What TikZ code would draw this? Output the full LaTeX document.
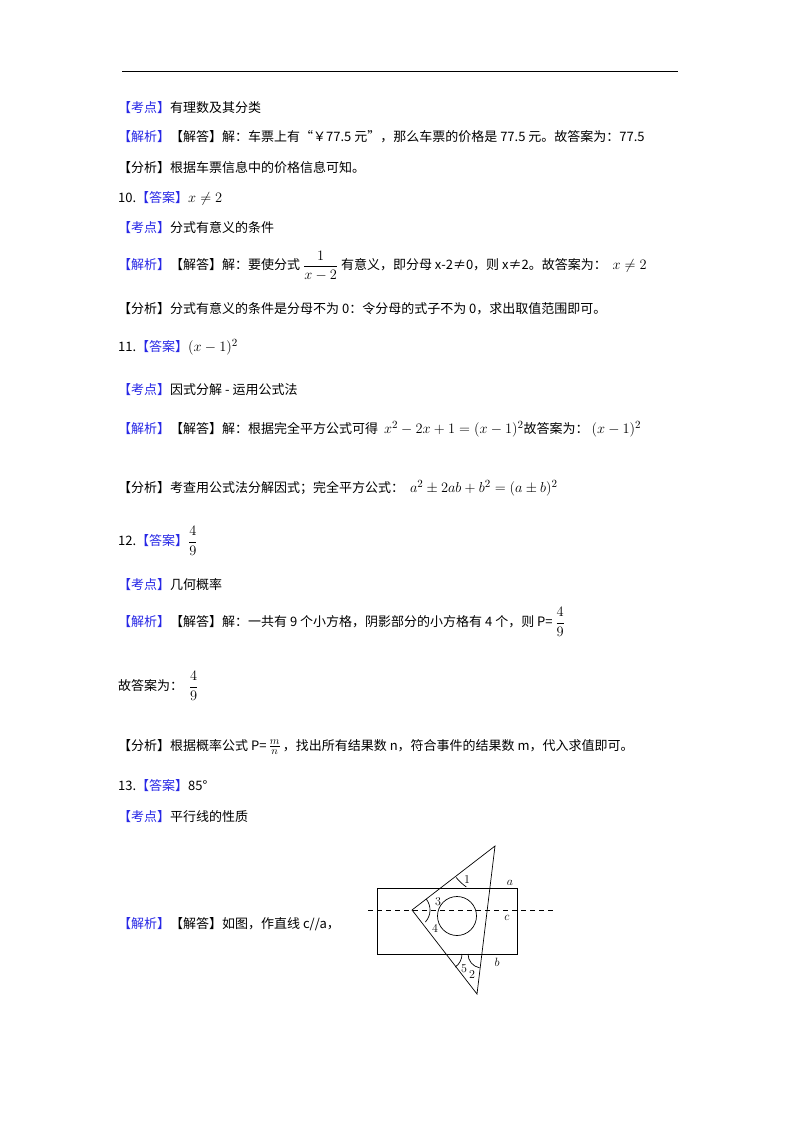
\documentclass[tikz,border=0pt]{standalone}
\usepackage{amsmath}
\usepackage{fontspec}
\setmainfont{Noto Sans CJK SC}
\definecolor{kblue}{RGB}{40,40,230}
\newcommand{\bk}[1]{\textcolor{kblue}{【#1】}}
\newcommand{\mm}[1]{{\fontsize{15}{16}\selectfont$#1$}}
\begin{document}
\begin{tikzpicture}[x=1pt,y=-1pt,
  ln/.style={anchor=west,inner sep=0pt,font=\fontsize{13}{15}\selectfont},
  lb/.style={inner sep=0pt,font=\fontsize{12}{12}\selectfont},
  fig/.style={line width=0.7pt}]
\useasboundingbox (0,0) rectangle (800,1132);
\fill[white] (0,0) rectangle (800,1132);
\draw[line width=1pt] (122,72) -- (678,72);
\node[ln] (l1) at (118,108) {\bk{考点}有理数及其分类};
\node[ln] (l2) at (118,137) {\bk{解析}【解答】解：车票上有“￥77.5 元”，那么车票的价格是 77.5 元。故答案为：77.5};
\node[ln] (l3) at (118,168) {【分析】根据车票信息中的价格信息可知。};
\node[ln] (l4) at (118,198) {10.\bk{答案}\mm{x\neq 2}};
\node[ln] (l5) at (118,228) {\bk{考点}分式有意义的条件};
\node[ln] (l6) at (118,266) {\bk{解析}【解答】解：要使分式 \mm{\dfrac{1}{x-2}} 有意义，即分母 x-2≠0，则 x≠2。故答案为：\ \ \mm{x\neq 2}};
\node[ln] (l7) at (118,309) {【分析】分式有意义的条件是分母不为 0：令分母的式子不为 0，求出取值范围即可。};
\node[ln] (l8) at (118,347) {11.\bk{答案}\mm{(x-1)^2}};
\node[ln] (l9) at (118,390) {\bk{考点}因式分解 - 运用公式法};
\node[ln] (l10) at (118,429) {\bk{解析}【解答】解：根据完全平方公式可得 \ \mm{x^2-2x+1=(x-1)^2}故答案为：\ \mm{(x-1)^2}};
\node[ln] (l11) at (118,488) {【分析】考查用公式法分解因式；完全平方公式：\ \ \mm{a^2\pm2ab+b^2=(a\pm b)^2}};
\node[ln] (l12) at (118,541) {12.\bk{答案}\mm{\dfrac{4}{9}}};
\node[ln] (l13) at (118,585) {\bk{考点}几何概率};
\node[ln] (l14) at (118,622) {\bk{解析}【解答】解：一共有 9 个小方格，阴影部分的小方格有 4 个，则 P= \mm{\dfrac{4}{9}}};
\node[ln] (l15) at (118,686) {故答案为：\ \ \mm{\dfrac{4}{9}}};
\node[ln] (l16) at (118,747) {【分析】根据概率公式 P=\,\mm{\tfrac{m}{n}}\,，找出所有结果数 n，符合事件的结果数 m，代入求值即可。};
\node[ln] (l17) at (118,786) {13.\bk{答案}85°};
\node[ln] (l18) at (118,817) {\bk{考点}平行线的性质};
\node[ln] (l19) at (118,924) {\bk{解析}【解答】如图，作直线 c//a，};
% figure
\draw[fig] (377,888) rectangle (517,954);
\draw[fig,dashed,dash pattern=on 5pt off 4pt] (368,910) -- (556,910);
\coordinate (L) at (412,910);
\coordinate (T) at (495,846);
\coordinate (B) at (477,994);
\draw[fig] (L) -- (T) -- (B) -- cycle;
\draw[fig] (457,916) circle (19.5);
\draw[fig] (T) ++(141:50) arc[start angle=141,end angle=125,radius=50];
\draw[fig] (L) ++(-37:18) arc[start angle=-37,end angle=42,radius=18];
\draw[fig] (446,954) ++(0:16) arc[start angle=0,end angle=55,radius=16];
\draw[fig] (482,954) ++(180:14) arc[start angle=180,end angle=100,radius=14];
\node[lb] (n1) at (467,880) {$1$};
\node[lb] (na) at (510,883) {$a$};
\node[lb] (n3) at (438,902) {$3$};
\node[lb] (nc) at (507,918) {$c$};
\node[lb] (n4) at (435,929) {$4$};
\node[lb] (nb) at (497,962) {$b$};
\node[lb] (n5) at (464,969) {$5$};
\node[lb] (n2) at (472,975) {$2$};
\end{tikzpicture}
\end{document}
